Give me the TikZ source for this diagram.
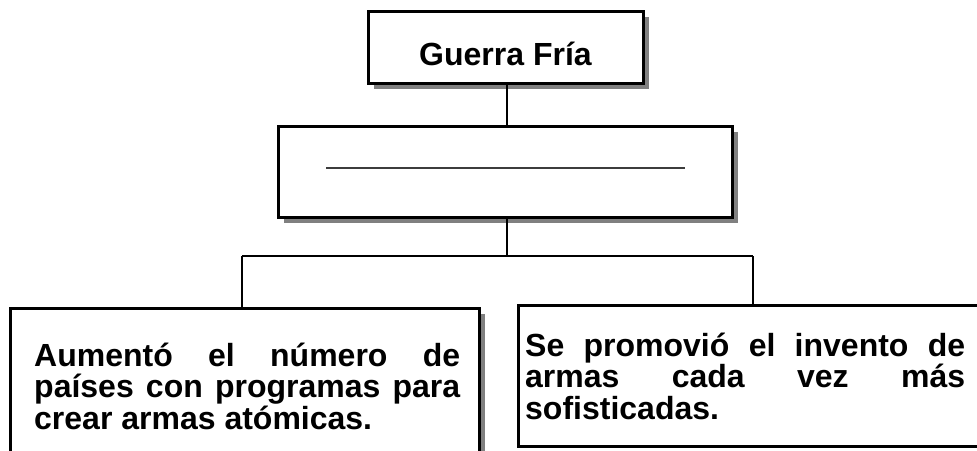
\documentclass[tikz,border=0pt]{standalone}
\usepackage{fontspec}
\setmainfont{Liberation Sans}
\usetikzlibrary{shadows}
\definecolor{shadowgray}{RGB}{128,128,128}
\definecolor{linegray}{RGB}{60,60,60}
\newcommand{\bodyfont}{\bfseries\fontsize{32}{31.7}\selectfont}
\begin{document}
\begin{tikzpicture}[x=1pt,y=-1pt,
  boxstyle/.style={draw=black, line width=3pt, fill=white, inner sep=0pt, anchor=center},
  shadowed/.style={drop shadow={shadow xshift=6pt, shadow yshift=-6pt, fill=shadowgray, opacity=1}},
  conn/.style={draw=black, line width=2pt},
  txt/.style={font=\bfseries\fontsize{32}{36}\selectfont, inner sep=0pt}
]
\useasboundingbox (0,0) rectangle (977,450);
\clip (0,0) rectangle (977,450);
\fill[white] (0,0) rectangle (977,450);

\node[boxstyle, shadowed, minimum width=275pt, minimum height=72pt] (top) at (505.5,47) {};
\node[txt, anchor=base] (toptext) at (505.5,65) {Guerra Fría};

\node[boxstyle, shadowed, minimum width=454pt, minimum height=91pt] (mid) at (505,171.5) {};
\draw[linegray, line width=1.5pt] (326,168) -- (685,168);

\node[boxstyle, shadowed, minimum width=469pt, minimum height=162pt] (left) at (244.5,389) {};
\node[txt, anchor=base west] (lefttext) at (34,366) {\parbox[t]{426pt}{\bodyfont
\makebox[426pt][s]{Aumentó el número de}\\
\makebox[426pt][s]{países con programas para}\\
crear armas atómicas.}};

\node[boxstyle, minimum width=482pt, minimum height=141pt] (right) at (759,375.5) {};
\node[txt, anchor=base west] (righttext) at (525,356) {\parbox[t]{440pt}{\bodyfont
\makebox[440pt][s]{Se promovió el invento de}\\
\makebox[440pt][s]{armas cada vez más}\\
sofisticadas.}};

\coordinate (bus) at (507,256);
\coordinate (bl) at (242,256);
\coordinate (br) at (753,256);
\draw[conn] (507,0 |- top.south) -- (507,0 |- mid.north);
\draw[conn] (507,0 |- mid.south) -- (bus);
\draw[conn] (bl) -- (br);
\draw[conn] (bl) -- (bl |- left.north);
\draw[conn] (br) -- (br |- right.north);
\end{tikzpicture}
\end{document}
